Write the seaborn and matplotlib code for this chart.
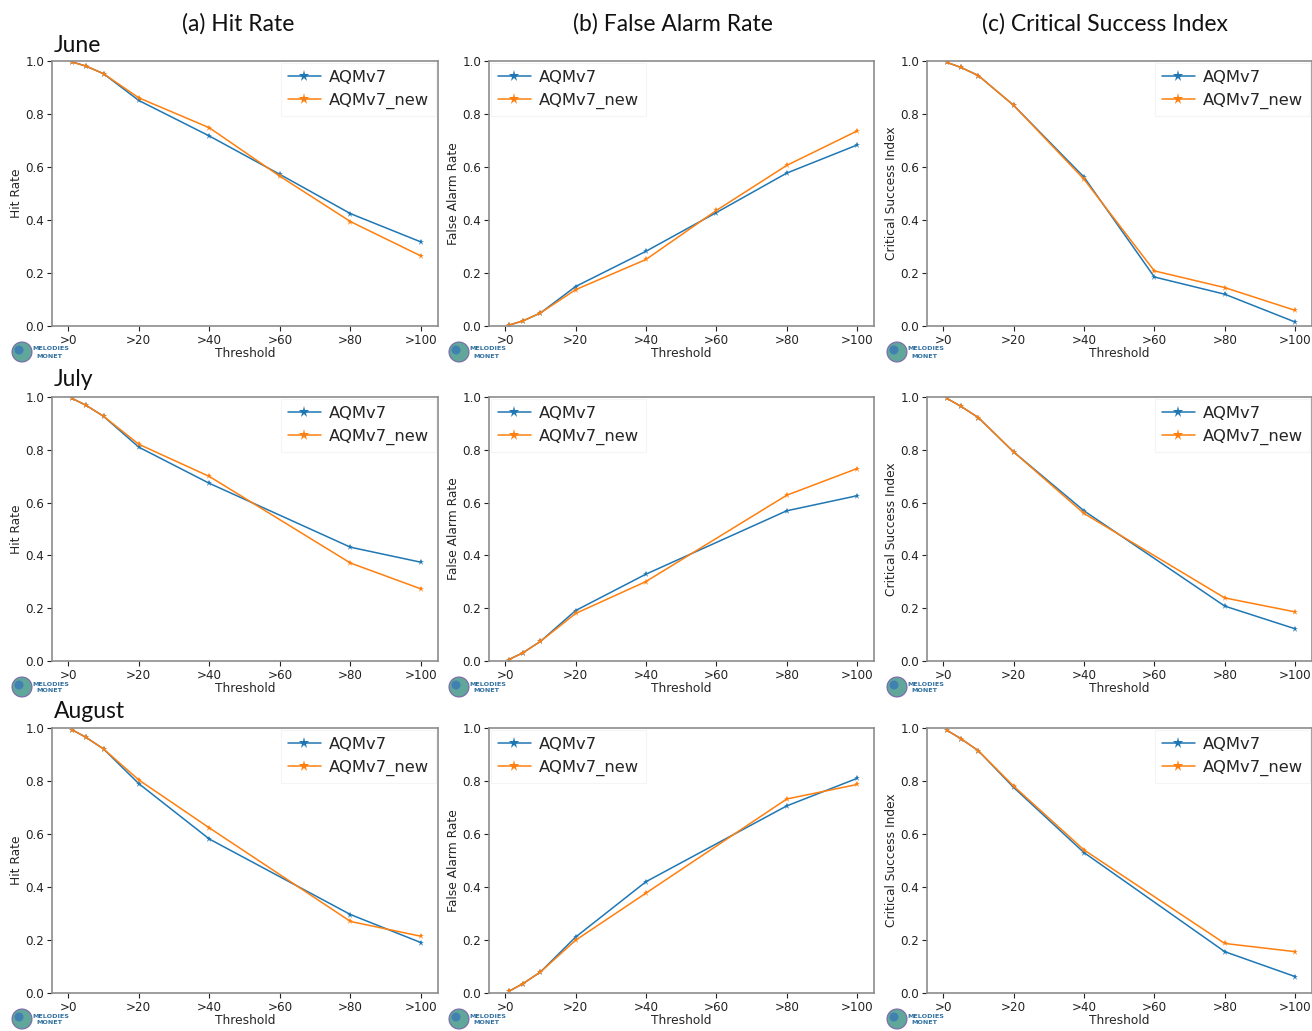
import numpy as np
import pandas as pd
import matplotlib
matplotlib.use("Agg")
import matplotlib.pyplot as plt
from matplotlib.patches import Ellipse
import seaborn as sns

# ---------------- data ----------------
months = ["June", "July", "August"]
models = ["AQMv7", "AQMv7_new"]
metric_titles = ["(a) Hit Rate", "(b) False Alarm Rate", "(c) Critical Success Index"]
metric_ylabels = ["Hit Rate", "False Alarm Rate", "Critical Success Index"]
tick_vals = [0, 20, 40, 60, 80, 100]
tick_labels = [">0", ">20", ">40", ">60", ">80", ">100"]

thr_june = [1, 5, 10, 20, 40, 60, 80, 100]
thr_jul = [1, 5, 10, 20, 40, 80, 100]
thr_aug = [1, 5, 10, 20, 40, 80, 100]

# June
june_hr_v7 = [0.997, 0.981, 0.952, 0.851, 0.717, 0.572, 0.424, 0.317]
june_hr_new = [0.996, 0.981, 0.952, 0.861, 0.748, 0.565, 0.394, 0.264]
june_far_v7 = [0.003, 0.019, 0.049, 0.149, 0.282, 0.428, 0.577, 0.683]
june_far_new = [0.003, 0.019, 0.049, 0.137, 0.251, 0.436, 0.606, 0.736]
june_csi_v7 = [0.995, 0.976, 0.945, 0.833, 0.562, 0.185, 0.120, 0.015]
june_csi_new = [0.995, 0.976, 0.945, 0.833, 0.554, 0.208, 0.145, 0.059]
# July
jul_hr_v7 = [0.995, 0.969, 0.927, 0.810, 0.673, 0.431, 0.374]
jul_hr_new = [0.995, 0.969, 0.927, 0.821, 0.699, 0.371, 0.273]
jul_far_v7 = [0.005, 0.031, 0.074, 0.191, 0.329, 0.569, 0.626]
jul_far_new = [0.005, 0.031, 0.074, 0.180, 0.301, 0.628, 0.729]
jul_csi_v7 = [0.995, 0.965, 0.922, 0.792, 0.569, 0.208, 0.122]
jul_csi_new = [0.995, 0.965, 0.922, 0.792, 0.559, 0.239, 0.186]
# August
aug_hr_v7 = [0.994, 0.965, 0.921, 0.790, 0.581, 0.296, 0.190]
aug_hr_new = [0.994, 0.965, 0.921, 0.804, 0.623, 0.270, 0.214]
aug_far_v7 = [0.006, 0.035, 0.079, 0.211, 0.420, 0.706, 0.810]
aug_far_new = [0.006, 0.035, 0.079, 0.199, 0.377, 0.732, 0.787]
aug_csi_v7 = [0.992, 0.960, 0.914, 0.776, 0.530, 0.156, 0.062]
aug_csi_new = [0.992, 0.960, 0.914, 0.781, 0.540, 0.187, 0.156]

thresholds = {"June": thr_june, "July": thr_jul, "August": thr_aug}
values = {
    "June": [(june_hr_v7, june_hr_new), (june_far_v7, june_far_new), (june_csi_v7, june_csi_new)],
    "July": [(jul_hr_v7, jul_hr_new), (jul_far_v7, jul_far_new), (jul_csi_v7, jul_csi_new)],
    "August": [(aug_hr_v7, aug_hr_new), (aug_far_v7, aug_far_new), (aug_csi_v7, aug_csi_new)],
}

# ---------------- style ----------------
sns.set_style("ticks")
plt.rcParams["font.family"] = ["DejaVu Sans"]
palette = {"AQMv7": "#1f77b4", "AQMv7_new": "#ff7f0e"}

W, H = 1312, 1031
fig = plt.figure(figsize=(W / 100, H / 100), dpi=100)

col_px = [(52, 438), (489, 874), (927, 1312)]
row_px = [(61, 326), (397, 661), (728, 993)]

def fx(px):
    return px / W

def fy(py):
    return 1 - py / H

for r, month in enumerate(months):
    thr = thresholds[month]
    for c in range(3):
        v7, vnew = values[month][c]
        df = pd.DataFrame({
            "Threshold": thr + thr,
            "value": v7 + vnew,
            "model": [models[0]] * len(thr) + [models[1]] * len(thr),
        })
        x0, x1 = col_px[c]
        y0, y1 = row_px[r]
        ax = fig.add_axes([fx(x0), fy(y1), (x1 - x0) / W, (y1 - y0) / H])
        sns.lineplot(data=df, x="Threshold", y="value", hue="model",
                     palette=palette, marker="*", markersize=4.5,
                     markeredgewidth=0, linewidth=1.1, ax=ax, sort=False)
        ax.set_xlim(-4.6, 104.8)
        ax.set_ylim(0, 1.0)
        ax.set_xticks(tick_vals)
        ax.set_xticklabels(tick_labels)
        ax.set_yticks([0, 0.2, 0.4, 0.6, 0.8, 1.0])
        ax.set_yticklabels(["0.0", "0.2", "0.4", "0.6", "0.8", "1.0"])
        ax.tick_params(labelsize=8.6, length=3.5, width=0.8, colors="#222222", pad=2)
        ax.set_xlabel("Threshold", fontsize=8.8, labelpad=0)
        ax.set_ylabel(metric_ylabels[c], fontsize=8.8, labelpad=1.5)
        for s in ax.spines.values():
            s.set_color("#8c8c8c")
            s.set_linewidth(1.2)
        loc = "upper left" if c == 1 else "upper right"
        leg = ax.legend(loc=loc, fontsize=11.8, markerscale=1.8, frameon=True,
                        fancybox=False, framealpha=1.0, edgecolor="#f5f5f5",
                        borderaxespad=0.15, handlelength=2.0, handletextpad=0.5,
                        title=None)
        leg.get_frame().set_linewidth(0.8)

        # MELODIES MONET logo approximation
        lx = x0 - 30
        ly = y1 + 26
        ew = 20 / W
        eh = 20 / H
        fig.add_artist(Ellipse((fx(lx), fy(ly)), ew, eh, transform=fig.transFigure,
                               facecolor="#4f9d8f", edgecolor="#7a5ea8", linewidth=0.8, alpha=0.9))
        fig.add_artist(Ellipse((fx(lx - 3), fy(ly - 2)), ew * 0.45, eh * 0.45,
                               transform=fig.transFigure, facecolor="#3a78b8",
                               edgecolor="none", alpha=0.8))
        fig.text(fx(lx + 10), fy(ly - 3), "MELODIES", fontsize=4.6, fontweight="bold",
                 color="#2f6f9f", ha="left", va="center")
        fig.text(fx(lx + 14), fy(ly + 4), "MONET", fontsize=4.6, fontweight="bold",
                 color="#2f6f9f", ha="left", va="center")

# column titles
title_x = [238, 673, 1105]
for c in range(3):
    fig.text(fx(title_x[c]), fy(24), metric_titles[c], fontsize=16.5,
             family=["Lato", "DejaVu Sans"], ha="center", va="center", color="#111111")

# month labels
month_y = [45, 380, 712]
for r, month in enumerate(months):
    fig.text(fx(54), fy(month_y[r]), month, fontsize=16.5,
             family=["Lato", "DejaVu Sans"], ha="left", va="center", color="#111111")

fig.savefig("out.png", dpi=100)
